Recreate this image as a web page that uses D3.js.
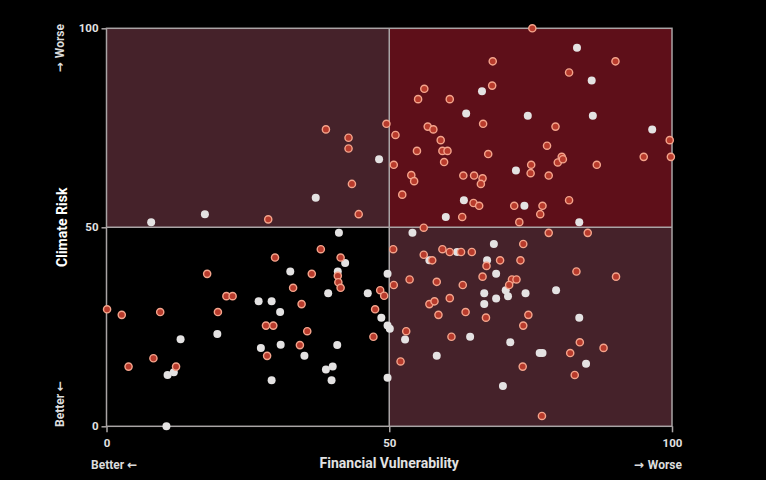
<!DOCTYPE html>
<html>
<head>
<meta charset="utf-8">
<script src="https://cdn.jsdelivr.net/npm/d3@7"></script>
<style>
  html, body { margin: 0; padding: 0; background: #000; }
  svg text { font-family: Roboto, "Noto Sans", sans-serif; }
  svg .arrow { font-family: "DejaVu Sans", sans-serif; }
</style>
</head>
<body>
<div id="chart"></div>
<script>
// axis ticks and labels
var tickValues = [0, 50, 100];
var xTitle = "Financial Vulnerability";
var yTitle = "Climate Risk";

// red (outlined) points: [financial vulnerability, climate risk]
var redPoints = [
  [28.6, 52.0], [56.2, 84.8], [55.1, 82.2], [60.7, 82.2], [66.6, 76.0], [38.8, 74.6],
  [42.8, 72.5], [42.8, 69.8], [49.5, 76.0], [51.1, 73.2], [56.8, 75.3], [57.8, 74.6],
  [59.1, 71.9], [54.9, 69.2], [59.4, 69.2], [60.3, 69.2], [59.7, 66.4], [50.8, 65.7],
  [53.9, 63.1], [54.4, 61.6], [63.1, 63.0], [65.0, 63.0], [66.5, 62.3], [66.2, 60.9],
  [43.4, 60.9], [52.3, 58.2], [64.9, 56.1], [65.9, 55.4], [62.9, 52.6], [44.6, 53.3],
  [56.1, 49.9], [75.3, 100], [68.3, 91.7], [90.0, 91.7], [81.8, 88.9], [68.2, 85.6],
  [79.4, 75.3], [99.6, 71.9], [77.9, 70.5], [67.5, 68.4], [80.5, 67.7], [79.8, 66.3],
  [80.7, 67.1], [95.0, 67.7], [99.8, 67.7], [75.1, 65.7], [86.7, 65.7], [75.0, 63.6],
  [78.2, 63.0], [81.8, 56.8], [72.1, 55.4], [77.1, 55.4], [76.7, 53.3], [73.0, 51.3],
  [29.8, 42.4], [33.0, 34.8], [17.8, 38.3], [21.2, 32.7], [22.3, 32.7], [0.1, 29.4],
  [2.7, 28.0], [9.5, 28.7], [19.7, 28.7], [28.2, 25.3], [29.5, 25.3], [28.4, 17.7],
  [8.3, 17.1], [3.9, 15.0], [12.3, 15.0], [37.9, 44.5], [41.4, 42.4], [40.9, 37.8],
  [41.0, 36.2], [41.4, 34.8], [36.3, 38.3], [34.5, 30.7], [48.4, 34.2], [49.1, 32.8],
  [47.5, 29.4], [35.5, 23.9], [47.2, 22.5], [34.2, 20.4], [50.7, 44.5], [50.8, 35.5],
  [53.6, 36.9], [56.1, 43.1], [57.6, 41.7], [59.4, 44.5], [60.7, 43.8], [62.7, 43.8],
  [64.6, 43.8], [58.4, 36.3], [63.0, 35.5], [60.7, 32.2], [57.1, 30.7], [58.0, 31.4],
  [58.7, 28.0], [63.5, 28.7], [53.0, 23.9], [61.0, 22.5], [52.0, 16.3], [78.2, 48.6],
  [85.1, 48.6], [73.7, 45.8], [67.2, 40.3], [69.6, 41.7], [73.2, 41.7], [66.5, 37.6],
  [71.7, 36.9], [72.5, 36.9], [71.2, 35.5], [67.1, 27.3], [83.1, 38.9], [90.1, 37.6],
  [74.6, 28.0], [73.7, 25.3], [83.7, 21.1], [87.9, 19.7], [82.0, 18.4], [73.6, 15.0],
  [82.8, 12.9], [77.0, 2.6]
];

// white (filled) points: [financial vulnerability, climate risk]
var whitePoints = [
  [7.9, 51.3], [17.4, 53.3], [66.4, 84.2], [63.6, 78.6], [48.2, 67.1], [37.0, 57.4],
  [63.2, 56.8], [60.0, 52.6], [83.2, 95.1], [85.8, 86.9], [74.5, 78.0], [86.0, 78.0],
  [96.5, 74.6], [72.4, 64.3], [73.9, 55.4], [83.6, 51.3], [32.5, 38.9], [26.9, 31.4],
  [29.2, 31.4], [30.7, 28.7], [19.6, 23.2], [13.1, 21.9], [27.3, 19.7], [30.8, 20.5],
  [10.8, 12.9], [11.9, 13.6], [29.2, 11.6], [10.6, 0], [41.1, 48.6], [42.2, 41.0],
  [40.9, 38.9], [39.2, 33.4], [46.2, 33.4], [49.7, 38.3], [48.6, 27.3], [49.7, 25.3],
  [50.1, 24.5], [40.8, 20.4], [35.0, 17.7], [38.8, 14.3], [40.0, 15.0], [39.8, 11.6],
  [49.7, 12.2], [54.1, 48.6], [57.1, 41.7], [62.0, 43.8], [52.8, 21.8], [64.3, 22.5],
  [58.4, 17.7], [66.8, 33.4], [66.8, 30.7], [68.5, 45.8], [67.3, 41.7], [68.9, 38.3],
  [70.6, 34.2], [71.0, 32.7], [74.1, 33.4], [68.9, 32.1], [79.5, 34.2], [83.6, 27.3],
  [71.4, 21.1], [76.6, 18.4], [77.1, 18.4], [84.8, 15.7], [70.1, 10.1]
];

// quadrant fills
var quadrants = [
  { x0: 0, x1: 50, y0: 50, y1: 100, fill: "#45222a" },
  { x0: 50, x1: 100, y0: 50, y1: 100, fill: "#5e0f19" },
  { x0: 0, x1: 50, y0: 0, y1: 50, fill: "#000000" },
  { x0: 50, x1: 100, y0: 0, y1: 50, fill: "#45222a" }
];

var svgWidth = 766;
var svgHeight = 480;
var margin = { top: 28.3, right: 94, bottom: 53.7, left: 106.5 };
var width = svgWidth - margin.left - margin.right;
var height = svgHeight - margin.top - margin.bottom;

var svg = d3.select("#chart")
  .append("svg")
  .attr("width", svgWidth)
  .attr("height", svgHeight)
  .style("background", "#000");

var g = svg.append("g")
  .attr("transform", `translate(${margin.left}, ${margin.top})`);

var x = d3.scaleLinear().domain([0, 100]).range([0, width]);
var y = d3.scaleLinear().domain([0, 100]).range([height, 0]);

// quadrants
g.selectAll(".quad")
  .data(quadrants)
  .enter()
  .append("rect")
  .attr("x", d => x(d.x0))
  .attr("y", d => y(d.y1))
  .attr("width", d => x(d.x1) - x(d.x0))
  .attr("height", d => y(d.y0) - y(d.y1))
  .attr("fill", d => d.fill);

// frame and mid lines
var lineColor = "#a9a4a5";
g.append("rect")
  .attr("width", width)
  .attr("height", height)
  .attr("fill", "none")
  .attr("stroke", lineColor)
  .attr("stroke-width", 1.5);

g.append("line")
  .attr("x1", x(50)).attr("x2", x(50))
  .attr("y1", 0).attr("y2", height)
  .attr("stroke", lineColor).attr("stroke-width", 1.5);

g.append("line")
  .attr("x1", 0).attr("x2", width)
  .attr("y1", y(50)).attr("y2", y(50))
  .attr("stroke", lineColor).attr("stroke-width", 1.5);

// axes
var xAxis = d3.axisBottom(x).tickValues(tickValues).tickSize(6).tickSizeOuter(0);
var yAxis = d3.axisLeft(y).tickValues(tickValues).tickSize(5).tickSizeOuter(0);

var xg = g.append("g")
  .attr("transform", `translate(0, ${height})`)
  .call(xAxis);
var yg = g.append("g").call(yAxis);

[xg, yg].forEach(function(a) {
  a.select(".domain").remove();
  a.selectAll(".tick line").attr("stroke", lineColor).attr("stroke-width", 1.5);
  a.selectAll(".tick text")
    .attr("fill", "#e2e2e2")
    .style("font-size", "11.5px")
    .style("font-weight", "bold");
});
xg.selectAll(".tick text").attr("dy", "1.05em");
yg.selectAll(".tick text").attr("x", -8);

// points
g.selectAll(".white")
  .data(whitePoints)
  .enter()
  .append("circle")
  .attr("class", "white")
  .attr("cx", d => x(d[0]))
  .attr("cy", d => y(d[1]))
  .attr("r", 4)
  .attr("fill", "#e4e2e2");

g.selectAll(".red")
  .data(redPoints)
  .enter()
  .append("circle")
  .attr("class", "red")
  .attr("cx", d => x(d[0]))
  .attr("cy", d => y(d[1]))
  .attr("r", 3.6)
  .attr("fill", "#b83b2c")
  .attr("stroke", "#f4a48c")
  .attr("stroke-width", 1.4);

// titles
svg.append("text")
  .attr("x", margin.left + width / 2)
  .attr("y", 468)
  .attr("text-anchor", "middle")
  .attr("fill", "#e2e2e2")
  .style("font-size", "14px")
  .style("font-weight", "bold")
  .text(xTitle);

svg.append("text")
  .attr("transform", `translate(67, ${margin.top + height / 2}) rotate(-90)`)
  .attr("text-anchor", "middle")
  .attr("fill", "#ffffff")
  .style("font-size", "14px")
  .style("font-weight", "bold")
  .text(yTitle);

// direction hints: word plus arrow
function hint(transform, anchor, word, arrow, arrowFirst) {
  var t = svg.append("text")
    .attr("transform", transform)
    .attr("text-anchor", anchor)
    .attr("fill", "#dcdcdc")
    .style("font-size", "12px")
    .style("font-weight", "bold");
  if (arrowFirst) {
    t.append("tspan").attr("class", "arrow").text(arrow + " ");
    t.append("tspan").text(word);
  } else {
    t.append("tspan").text(word + " ");
    t.append("tspan").attr("class", "arrow").text(arrow);
  }
}

hint("translate(91, 469)", "start", "Better", "\u2190", false);
hint("translate(682, 469)", "end", "Worse", "\u2192", true);
hint("translate(64, 427) rotate(-90)", "start", "Better", "\u2190", false);
hint("translate(64, 24) rotate(-90)", "end", "Worse", "\u2192", true);
</script>
</body>
</html>
